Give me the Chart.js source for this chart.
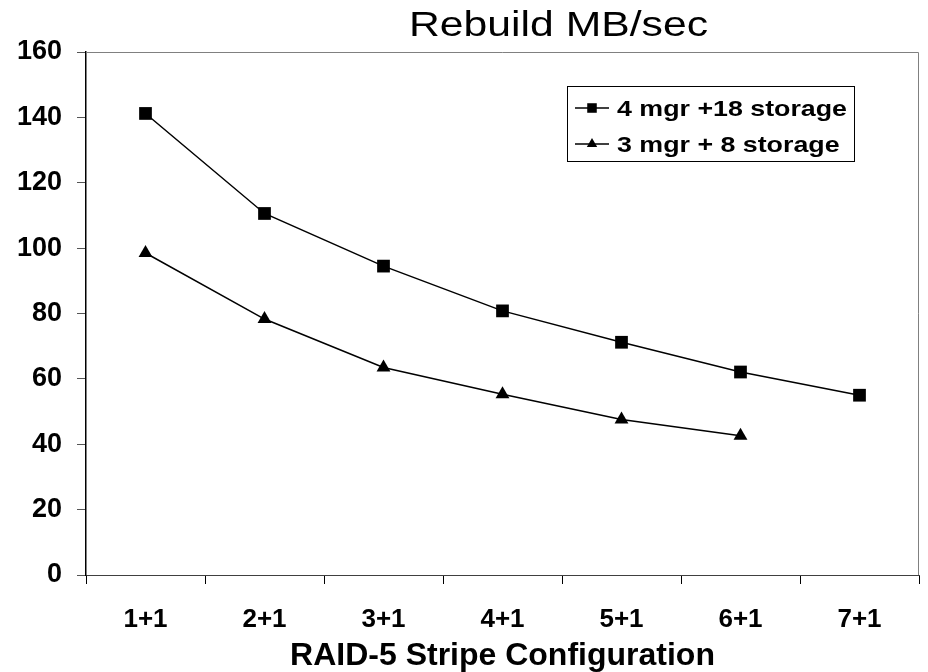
<!DOCTYPE html>
<html>
<head>
<meta charset="utf-8">
<script src="https://cdn.jsdelivr.net/npm/chart.js@4.4.1/dist/chart.umd.min.js"></script>
<style>
  html, body { margin: 0; padding: 0; background: #fff; }
  #wrap { width: 928px; height: 672px; position: relative; }
</style>
</head>
<body>
<div id="wrap"><canvas id="rebuildChart"></canvas></div>
<script>
const categories = ["1+1", "2+1", "3+1", "4+1", "5+1", "6+1", "7+1"];
const mgr4Storage18 = [141.2, 110.6, 94.5, 80.8, 71.2, 62.1, 55.0];
const mgr3Storage8 = [98.5, 78.3, 63.5, 55.3, 47.6, 42.6, null];
const yTicks = [0, 20, 40, 60, 80, 100, 120, 140, 160];

const FONT = "'Liberation Sans', Arial, sans-serif";

// text drawn a bit wider than the font, like the original picture
function wideText(ctx, text, x, y, targetWidth) {
    const w = ctx.measureText(text).width;
    const sx = targetWidth / w;
    ctx.save();
    ctx.translate(x, y);
    ctx.scale(sx, 1);
    ctx.fillText(text, 0, 0);
    ctx.restore();
    return sx;
}

// gray frame round the plot, title and boxed legend inside the plot
const framePlugin = {
    id: "frame",
    beforeDatasetsDraw(chart) {
        const { ctx, chartArea: a } = chart;
        ctx.save();
        ctx.strokeStyle = "#808080";
        ctx.lineWidth = 1;
        ctx.beginPath();
        ctx.moveTo(a.left, a.top + 0.5);
        ctx.lineTo(a.right - 0.5, a.top + 0.5);
        ctx.lineTo(a.right - 0.5, a.bottom);
        ctx.stroke();
        ctx.restore();
    },
    afterDraw(chart) {
        const { ctx } = chart;
        ctx.save();
        ctx.fillStyle = "#000";
        ctx.textAlign = "left";
        ctx.textBaseline = "alphabetic";
        ctx.font = "35px " + FONT;
        wideText(ctx, "Rebuild MB/sec", 409, 36, 299);

        // legend
        const bx = 567, by = 86, bw = 287, bh = 75;
        ctx.strokeStyle = "#000";
        ctx.lineWidth = 1;
        ctx.strokeRect(bx + 0.5, by + 0.5, bw, bh);
        ctx.font = "bold 22px " + FONT;
        const sx = 230 / ctx.measureText(chart.data.datasets[0].label).width;
        const rows = [108, 144];
        chart.data.datasets.forEach(function (ds, i) {
            const y = rows[i];
            ctx.beginPath();
            ctx.strokeStyle = "#000";
            ctx.lineWidth = 1.5;
            ctx.moveTo(575, y);
            ctx.lineTo(609, y);
            ctx.stroke();
            ctx.fillStyle = "#000";
            Chart.helpers.drawPoint(ctx, {
                pointStyle: ds.pointStyle,
                radius: ds.pointRadius * 0.75,
                borderWidth: 0
            }, 592, y);
            ctx.fillStyle = "#000";
            const w = ctx.measureText(ds.label).width;
            wideText(ctx, ds.label, 617, y + 8, w * sx);
        });
        ctx.restore();
    }
};

const chartEl = document.getElementById("rebuildChart").getContext("2d");

const rebuildChart = new Chart(chartEl, {
    type: "line",
    data: {
        labels: categories,
        datasets: [{
            label: "4 mgr +18 storage",
            data: mgr4Storage18,
            borderColor: "#000",
            backgroundColor: "#000",
            borderWidth: 1.5,
            pointStyle: "rect",
            pointRadius: 9,
            pointBorderWidth: 0,
            pointBackgroundColor: "#000",
            fill: false,
            tension: 0,
        }, {
            label: "3 mgr + 8 storage",
            data: mgr3Storage8,
            borderColor: "#000",
            backgroundColor: "#000",
            borderWidth: 1.5,
            pointStyle: "triangle",
            pointRadius: 8,
            pointBorderWidth: 0,
            pointBackgroundColor: "#000",
            fill: false,
            tension: 0,
        }],
    },
    options: {
        responsive: true,
        maintainAspectRatio: false,
        animation: false,
        layout: { padding: { top: 52, right: 3, left: 0, bottom: 0 } },
        plugins: {
            legend: { display: false },
            title: { display: false },
            tooltip: { enabled: false },
        },
        scales: {
            x: {
                offset: true,
                grid: {
                    offset: true,
                    drawOnChartArea: false,
                    drawTicks: true,
                    tickLength: 9,
                    color: "#000",
                },
                border: { color: "#404040", width: 1 },
                ticks: {
                    color: "#000",
                    font: { family: FONT, size: 26, weight: "bold", lineHeight: 1 },
                    padding: 23,
                    maxRotation: 0,
                },
                title: {
                    display: true,
                    text: "RAID-5 Stripe Configuration",
                    color: "#000",
                    font: { family: FONT, size: 32, weight: "bold", lineHeight: 1 },
                    padding: { top: 0, bottom: 0 },
                },
                afterFit(scale) { scale.height = 97; },
            },
            y: {
                min: 0,
                max: 160,
                afterBuildTicks(scale) {
                    scale.ticks = yTicks.map(v => ({ value: v }));
                },
                grid: {
                    drawOnChartArea: false,
                    drawTicks: true,
                    tickLength: 9,
                    color: "#555",
                },
                border: { color: "#000", width: 1.5 },
                ticks: {
                    color: "#000",
                    font: { family: FONT, size: 27, weight: "bold" },
                    padding: 15,
                },
                afterFit(scale) { scale.width = 86; },
            },
        },
    },
    plugins: [framePlugin],
});
</script>
</body>
</html>
